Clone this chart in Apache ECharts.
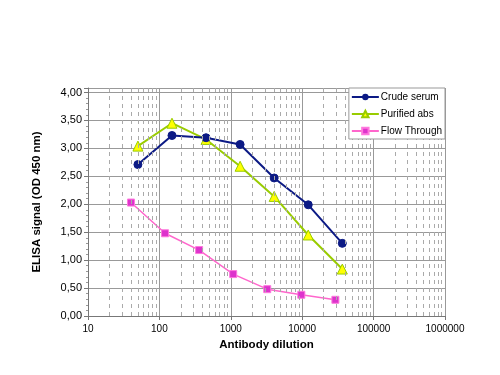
<!DOCTYPE html>
<html><head><meta charset="utf-8">
<script src="https://cdn.jsdelivr.net/npm/echarts@6/dist/echarts.min.js"></script>
<style>html,body{margin:0;padding:0;background:#fff}#c{width:500px;height:375px}</style>
</head><body><div id="c"></div>
<script>
const dilutionA = [50, 150, 450, 1350, 4050, 12150, 36450];
const crudeSerum = [2.71, 3.23, 3.19, 3.07, 2.47, 1.99, 1.30];
const purifiedAbs = [3.04, 3.45, 3.16, 2.68, 2.14, 1.45, 0.84];
const dilutionFT = [40, 120, 360, 1080, 3240, 9720, 29160];
const flowThrough = [2.03, 1.48, 1.18, 0.75, 0.48, 0.38, 0.29];
const decades = [10, 100, 1000, 10000, 100000];
const minorMultipliers = [2, 3, 4, 5, 6, 7, 8, 9];

const minorLines = [];
decades.forEach(d => minorMultipliers.forEach(m => minorLines.push({xAxis: d * m})));

const chart = echarts.init(document.getElementById('c'), null, {renderer: 'canvas'});
const font = 'Arial, "Liberation Sans", sans-serif';
chart.setOption({
  animation: false,
  backgroundColor: '#fff',
  grid: {left: 88, right: 55, top: 88, bottom: 59, containLabel: false},
  legend: {
    orient: 'vertical', right: 55, top: 88, z: 20,
    backgroundColor: '#fff', borderColor: '#999', borderWidth: 1, borderRadius: 0,
    padding: [4, 3, 3, 2], itemGap: 7, itemWidth: 27, itemHeight: 8,
    textStyle: {fontFamily: font, fontSize: 10, color: '#000', padding: [0, 0, 0, -3]},
    data: ['Crude serum', 'Purified abs', 'Flow Through']
  },
  xAxis: {
    type: 'log', logBase: 10, min: 10, max: 1000000,
    name: 'Antibody dilution', nameLocation: 'middle', nameGap: 21,
    nameTextStyle: {fontFamily: font, fontSize: 11.5, fontWeight: 'bold', color: '#000'},
    axisLine: {lineStyle: {color: '#777'}},
    axisTick: {show: true, length: 4, lineStyle: {color: '#777'}},
    axisLabel: {fontFamily: font, fontSize: 10, color: '#000', margin: 8, formatter: v => String(Math.round(v))},
    splitLine: {show: true, lineStyle: {color: '#999', width: 1}}
  },
  yAxis: {
    type: 'value', min: 0, max: 4.08, interval: 0.5,
    name: 'ELISA signal (OD 450 nm)', nameLocation: 'middle', nameGap: 45,
    nameTextStyle: {fontFamily: font, fontSize: 11.5, fontWeight: 'bold', color: '#000'},
    axisLine: {show: true, lineStyle: {color: '#777'}},
    axisTick: {show: true, length: 4, lineStyle: {color: '#777'}},
    minorTick: {show: true, splitNumber: 5, length: 2, lineStyle: {color: '#999'}},
    axisLabel: {fontFamily: font, fontSize: 11, color: '#000', margin: 6,
      formatter: v => (Math.abs(v * 2 - Math.round(v * 2)) < 1e-6) ? v.toFixed(2).replace('.', ',') : ''},
    splitLine: {show: true, lineStyle: {color: '#999', width: 1}}
  },
  series: [
    {
      name: 'Crude serum', type: 'line', data: dilutionA.map((x, i) => [x, crudeSerum[i]]),
      symbol: 'circle', symbolSize: 8, z: 3,
      lineStyle: {color: '#0c1a85', width: 2, type: 'solid'},
      itemStyle: {color: '#0c1a85', borderColor: '#0c1a85'}
    },
    {
      name: 'Purified abs', type: 'line', data: dilutionA.map((x, i) => [x, purifiedAbs[i]]),
      symbol: 'triangle', symbolSize: 10, z: 2.5,
      lineStyle: {color: '#99cc00', width: 2},
      itemStyle: {color: '#ffff00', borderColor: '#99cc00', borderWidth: 1}
    },
    {
      name: 'Flow Through', type: 'line', data: dilutionFT.map((x, i) => [x, flowThrough[i]]),
      symbol: 'rect', symbolSize: 7, z: 2.2,
      lineStyle: {color: '#ff66cc', width: 1.5},
      itemStyle: {color: '#dd33cc', borderColor: '#ff77dd', borderWidth: 1}
    },
    {
      name: 'grid-minor', type: 'line', data: [], silent: true, z: 1,
      markLine: {silent: true, symbol: 'none', label: {show: false},
        lineStyle: {color: '#aaa', type: [4, 4], width: 1}, data: minorLines, animation: false}
    }
  ]
});
</script></body></html>
